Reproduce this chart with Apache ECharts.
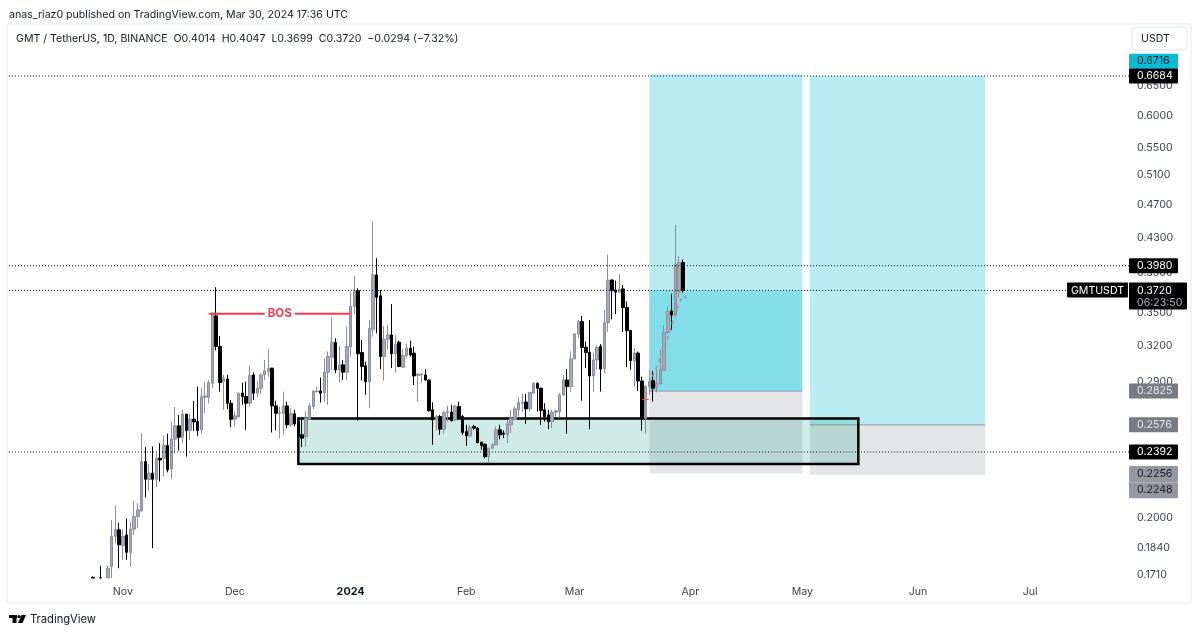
<!DOCTYPE html>
<html>
<head>
<meta charset="utf-8">
<title>GMTUSDT</title>
<style>html,body{margin:0;padding:0;background:#fff}#chart{width:1200px;height:635px}</style>
<script src="https://cdn.jsdelivr.net/npm/echarts@6/dist/echarts.min.js"></script>
</head>
<body>
<div id="chart"></div>
<script>
// ── data ─────────────────────────────────────────────────────────────────
const firstDay = "2023-10-02", dayCount = 300, firstCandle = "2023-10-24";

// open, close, low, high, one row per day from firstCandle
const ohlc = [
[.1698,.1695,.1695,.1702],"-",[.1696,.1695,.1695,.1753],"-",[.1696,.1741,.1695,.1753],
[.1749,.1899,.1695,.1986],[.1899,.1934,.1864,.2066],[.1934,.1856,.1741,.1972],[.1851,.1899,.1781,.1934],
[.1907,.1818,.1781,.1995],[.1818,.1937,.1749,.1977],[.1937,.2005,.1907,.2092],[.2005,.2042,.1942,.2079],
[.2036,.2330,.2033,.2518],[.2330,.2220,.2112,.2424],[.2220,.2257,.2153,.2315],[.2257,.2220,.1839,.2428],
[.2220,.2351,.2173,.2384],[.2351,.2340,.2206,.2450],[.2351,.2435,.2237,.2500],[.2435,.2278,.2262,.2514],
[.2284,.2477,.2220,.2599],[.2477,.2569,.2384,.2704],[.2569,.2491,.2401,.2647],[.2491,.2652,.2450,.2684],
[.2652,.2537,.2362,.2655],[.2537,.2616,.2472,.2655],[.2616,.2597,.2535,.2750],[.2599,.2537,.2500,.2860],
[.2542,.2783,.2514,.2852],[.2778,.2788,.2659,.2899],[.2778,.2892,.2733,.2912],[.2886,.3495,.2847,.3502],
[.3470,.3191,.3157,.3752],[.3191,.2892,.2821,.3285],[.2897,.2926,.2684,.2953],[.2920,.2733,.2691,.2953],
[.2733,.2616,.2560,.2757],[.2616,.2640,.2565,.2672],[.2635,.2809,.2623,.2814],[.2809,.2783,.2721,.2892],
[.2783,.2733,.2542,.2899],[.2733,.2948,.2713,.3027],[.2953,.2809,.2757,.2972],[.2809,.2847,.2778,.2907],
[.2847,.2953,.2803,.2967],[.2953,.2986,.2912,.3076],[.2980,.3008,.2939,.3168],[.3008,.2713,.2523,.3010],
[.2713,.2659,.2537,.2752],[.2659,.2664,.2484,.2708],[.2659,.2713,.2507,.2821],[.2713,.2576,.2553,.2745],
[.2576,.2655,.2560,.2696],[.2655,.2583,.2565,.2684],[.2599,.2500,.2472,.2630],[.2507,.2484,.2424,.2611],
[.2495,.2623,.2428,.2672],[.2616,.2713,.2611,.2738],[.2708,.2826,.2689,.2834],[.2821,.2826,.2814,.2860],
[.2826,.2809,.2738,.2931],[.2814,.2975,.2745,.3090],[.2975,.3105,.2721,.3148],[.3099,.3226,.2994,.3457],
[.3226,.2994,.2967,.3264],[.2994,.3035,.2894,.3197],[.3035,.2975,.2912,.3076],[.2975,.3191,.2912,.3370],
[.3191,.3560,.3105,.3708],[.3560,.3718,.3486,.3870],[.3718,.3128,.2606,.3742],[.3139,.3021,.2907,.3249],
[.3027,.2899,.2796,.3062],[.2899,.3355,.2696,.3431],[.3346,.3881,.3279,.4490],[.3881,.3651,.3309,.4062],
[.3665,.3105,.3000,.3725],[.3105,.3255,.2907,.3376],[.3255,.3294,.3165,.3385],[.3294,.3128,.3008,.3583],
[.3128,.3212,.2972,.3294],[.3229,.3021,.3016,.3243],[.3016,.3113,.3008,.3165],[.3113,.3177,.3090,.3215],
[.3177,.3119,.3105,.3243],[.3134,.2945,.2873,.3191],[.2948,.2959,.2745,.2967],[.2953,.2961,.2886,.2967],
[.2953,.2912,.2907,.3000],[.2912,.2677,.2672,.2917],[.2684,.2611,.2439,.2740],[.2611,.2635,.2537,.2647],
[.2635,.2546,.2507,.2647],[.2546,.2664,.2514,.2679],[.2664,.2672,.2599,.2713],[.2667,.2606,.2599,.2721],
[.2611,.2713,.2599,.2721],[.2708,.2630,.2623,.2745],[.2635,.2523,.2507,.2647],[.2530,.2500,.2433,.2576],
[.2500,.2560,.2491,.2576],[.2565,.2553,.2542,.2576],[.2553,.2454,.2450,.2560],[.2457,.2433,.2406,.2461],
[.2443,.2362,.2351,.2450],[.2362,.2417,.2319,.2419],[.2417,.2439,.2410,.2450],[.2439,.2542,.2433,.2565],
[.2542,.2507,.2477,.2576],[.2518,.2511,.2484,.2537],[.2507,.2583,.2450,.2611],[.2576,.2623,.2518,.2684],
[.2616,.2691,.2611,.2708],[.2684,.2738,.2635,.2778],[.2733,.2738,.2672,.2803],[.2742,.2691,.2583,.2803],
[.2691,.2814,.2672,.2821],[.2809,.2886,.2803,.2892],[.2886,.2847,.2672,.2892],[.2847,.2679,.2576,.2852],
[.2684,.2635,.2599,.2733],[.2647,.2599,.2546,.2684],[.2599,.2667,.2553,.2684],[.2667,.2677,.2635,.2684],
[.2672,.2796,.2630,.2809],[.2796,.2912,.2788,.2953],[.2912,.2860,.2514,.3000],[.2860,.3085,.2821,.3148],
[.3085,.3303,.3082,.3309],[.3303,.3416,.3264,.3431],[.3416,.3183,.2752,.3470],[.3185,.3139,.3008,.3235],
[.3139,.2945,.2546,.3431],[.2945,.3076,.2821,.3139],[.3076,.3183,.2994,.3204],[.3191,.3000,.2821,.3212],
[.3005,.3406,.2967,.3527],[.3406,.3827,.3321,.4100],[.3827,.3718,.3437,.3834],[.3725,.3701,.3486,.3820],
[.3701,.3732,.3691,.3888],[.3735,.3550,.3321,.3776],[.3550,.3333,.3016,.3608],[.3333,.3070,.2994,.3340],
[.3070,.3134,.2860,.3177],[.3134,.2904,.2826,.3148],[.2904,.2623,.2535,.2939],[.2623,.2860,.2514,.2873],
[.2860,.2899,.2796,.2994],[.2907,.2847,.2745,.2986],[.2855,.2886,.2814,.3000],[.2881,.2994,.2873,.3165],
[.2989,.3318,.2983,.3385],[.3315,.3511,.3303,.3560],[.3517,.3479,.3340,.3685],[.3479,.3996,.3463,.4450],
[.3708,.4014,.3651,.4088],[.4014,.3720,.3699,.4047]
];

const tickPrices = [0.65, 0.6, 0.55, 0.51, 0.47, 0.43, 0.39, 0.35, 0.32, 0.29, 0.2, 0.184, 0.171];
const horizontalPrices = [0.6684, 0.398, 0.2392];
const lastPrice = 0.372;

const boxDates = ["2023-12-18", "2024-05-16"];
const boxPrices = [0.2622, 0.2314];
const longA = { dates: ["2024-03-21", "2024-05-01"], target: 0.6716, entry: 0.2825, stop: 0.2256 };
const longB = { dates: ["2024-05-03", "2024-06-19"], target: 0.6684, entry: 0.2576, stop: 0.2248 };
const bosDates = ["2023-11-24", "2024-01-01"], bosPrice = 0.3489, bosMid = "2023-12-13";
const pathDates = ["2024-03-21", "2024-03-25", "2024-03-28", "2024-03-30", "2024-03-31"];
const pathPrices = [0.2880, 0.3165, 0.3495, 0.3672, 0.3640];
const stubDates = ["2024-03-19", "2024-03-21"], stubPrice = 0.276;

const tagPrices = [0.6716, 0.6684, 0.398, 0.372, 0.2825, 0.2576, 0.2392, 0.2256, 0.2248];
const tagKinds = ["cyan", "black", "black", "last", "gray", "gray", "black", "pale", "pale"];
const monthNames = ["Jan","Feb","Mar","Apr","May","Jun","Jul","Aug","Sep","Oct","Nov","Dec"];

// ── palette ──────────────────────────────────────────────────────────────
const colores = {
   texto: "#131722", eje: "#3c3f48", marco: "#f0f3fa",
   alza: "#a9acb6", alzaBorde: "#8b8e98", baja: "#000000",
   azul: "rgba(0,188,212,0.28)", gris: "rgba(120,123,134,0.2)", verde: "rgba(8,153,129,0.2)",
   rojo: "#f23b4c"
};
const fuente = "Inter, 'Noto Sans', sans-serif";
const tamano = 10.6;
const tagStyle = {
   cyan:  { fill: "#00bcd4", text: "#131722" },
   black: { fill: "#000000", text: "#ffffff" },
   last:  { fill: "#000000", text: "#ffffff" },
   gray:  { fill: "#787b86", text: "#e8eaf0" },
   pale:  { fill: "#9598a1", text: "#131722" }
};
const tagNudge = { 0.6716: -13, 0.2248: 15 };

// ── categories ───────────────────────────────────────────────────────────
const categorias = [];
for (let i = 0; i < dayCount; i++) {
   categorias.push(new Date(Date.parse(firstDay) + i * 864e5).toISOString().slice(0, 10));
}
const idx = fecha => categorias.indexOf(fecha);
const offset = idx(firstCandle);
const velas = categorias.map((c, i) => ohlc[i - offset] || "-");

// ── custom series helpers ────────────────────────────────────────────────
const fnCustom = (name, z, draw) => ({
   type: "custom", name, z, silent: true, clip: false, data: [[0, lastPrice]],
   renderItem: (params, api) => ({ type: "group", children: draw(params, api) })
});

const fnRect = (api, d0, d1, hi, lo, style) => {
   const a = api.coord([idx(d0), hi]), b = api.coord([idx(d1), lo]);
   return { type: "rect", shape: { x: a[0], y: a[1], width: b[0] - a[0], height: b[1] - a[1] }, style };
};

const fnLong = (pos) => fnCustom("long", 1, (params, api) => {
   const a = api.coord([idx(pos.dates[0]), pos.entry]), b = api.coord([idx(pos.dates[1]), pos.entry]);
   return [
      fnRect(api, pos.dates[0], pos.dates[1], pos.target, pos.entry, { fill: colores.azul }),
      fnRect(api, pos.dates[0], pos.dates[1], pos.entry, pos.stop, { fill: colores.gris }),
      { type: "line", shape: { x1: a[0], y1: a[1], x2: b[0], y2: b[1] }, style: { stroke: "rgba(120,123,134,0.7)", lineWidth: 1 } }
   ];
});

const fnDotted = (y, x0, x1) => ({
   type: "line", shape: { x1: x0, y1: y, x2: x1, y2: y },
   style: { stroke: colores.texto, lineWidth: 1, lineDash: [1, 2] }
});

const fnTag = (y, h, fill, w) => ({ type: "rect", shape: { x: 1129, y, width: w || 49, height: h, r: 1 }, style: { fill } });
const fnTagText = (y, text, fill) => ({
   type: "text", style: { x: 1137, y, text, fill, font: `${tamano}px ${fuente}`, align: "left", verticalAlign: "middle" }
});

// ── option ───────────────────────────────────────────────────────────────
const opcion = {
   backgroundColor: "#ffffff",
   animation: false,
   grid: { left: 9, right: 71, top: 26, bottom: 57 },
   xAxis: {
      type: "category",
      data: categorias,
      boundaryGap: true,
      axisLine: { show: false },
      axisTick: { show: false },
      splitLine: { show: false },
      axisLabel: {
         interval: (i, valor) => valor.endsWith("-01"),
         hideOverlap: false,
         margin: 8,
         fontFamily: fuente,
         fontSize: tamano,
         color: colores.eje,
         formatter: valor => {
            const mes = Number(valor.slice(5, 7)) - 1;
            return mes === 0 ? `{b|${valor.slice(0, 4)}}` : monthNames[mes];
         },
         rich: { b: { fontFamily: fuente, fontSize: 10.8, fontWeight: "bold", color: colores.texto } }
      }
   },
   yAxis: {
      type: "log",
      logBase: 10,
      min: 0.1695,
      max: 0.7663,
      scale: true,
      axisLine: { show: false },
      axisTick: { show: false },
      axisLabel: { show: false },
      splitLine: { show: false }
   },
   series: [
      fnLong(longA),
      fnLong(longB),
      fnCustom("activo", 2, (params, api) => [
         fnRect(api, longA.dates[0], longA.dates[1], lastPrice, longA.entry, { fill: colores.azul })
      ]),
      fnCustom("caja", 3, (params, api) => [
         fnRect(api, boxDates[0], boxDates[1], boxPrices[0], boxPrices[1], {
            fill: colores.verde, stroke: "#000000", lineWidth: 2.5
         })
      ]),
      {
         type: "candlestick",
         name: "GMTUSDT",
         z: 4,
         barWidth: 3,
         data: velas,
         itemStyle: { color: colores.alza, color0: colores.baja, borderColor: colores.alzaBorde, borderColor0: colores.baja, borderWidth: 1 }
      },
      {
         type: "line",
         name: "path",
         z: 5,
         symbol: "none",
         data: pathDates.map((f, i) => [f, pathPrices[i]]),
         lineStyle: { color: "#9598a1", width: 1.5, type: [4, 4] }
      },
      fnCustom("rotulos", 6, (params, api) => {
         const g = params.coordSys, xFin = g.x + g.width;
         const hijos = [];
         horizontalPrices.forEach(p => hijos.push(fnDotted(api.coord([0, p])[1], g.x, xFin)));
         hijos.push(fnDotted(api.coord([0, lastPrice])[1], g.x, 1067));

         const a = api.coord([idx(bosDates[0]), bosPrice]), b = api.coord([idx(bosDates[1]), bosPrice]);
         const m = api.coord([idx(bosMid), bosPrice]);
         const linea = (x1, x2) => ({ type: "line", shape: { x1, y1: a[1], x2, y2: a[1] }, style: { stroke: colores.rojo, lineWidth: 2 } });
         hijos.push(linea(a[0], m[0] - 15), linea(m[0] + 15, b[0]));
         hijos.push({ type: "text", style: { x: m[0], y: a[1], text: "BOS", fill: colores.rojo, font: `bold 11.5px ${fuente}`, align: "center", verticalAlign: "middle" } });

         const s0 = api.coord([idx(stubDates[0]), stubPrice]), s1 = api.coord([idx(stubDates[1]), stubPrice]);
         hijos.push({ type: "line", shape: { x1: s0[0], y1: s0[1], x2: s1[0], y2: s1[1] }, style: { stroke: colores.rojo, lineWidth: 1, lineDash: [3, 1] } });

         tickPrices.forEach(p => hijos.push(fnTagText(api.coord([0, p])[1], p.toFixed(4), colores.eje)));
         return hijos;
      }),
      fnCustom("etiquetas", 7, (params, api) => {
         const hijos = [];
         tagPrices.forEach((p, i) => {
            const y = api.coord([0, p])[1] + (tagNudge[p] || 0);
            const st = tagStyle[tagKinds[i]];
            if (tagKinds[i] === "last") {
               hijos.push(fnTag(y - 8, 27, st.fill, 58));
               hijos.push(fnTagText(y, p.toFixed(4), st.text));
               hijos.push(fnTagText(y + 12, "06:23:50", "#b2b5be"));
               hijos.push({ type: "rect", shape: { x: 1067, y: y - 8, width: 61, height: 15, r: 1 }, style: { fill: st.fill } });
               hijos.push({ type: "text", style: { x: 1097.5, y, text: "GMTUSDT", fill: "#ffffff", font: `${tamano}px ${fuente}`, align: "center", verticalAlign: "middle" } });
            } else {
               hijos.push(fnTag(y - 7.5, tagKinds[i] === "pale" ? 16 : 15, st.fill));
               hijos.push(fnTagText(y, p.toFixed(4), st.text));
            }
         });
         return hijos;
      })
   ],
   graphic: [
      { type: "text", x: 9, y: 9, style: { text: "anas_riaz0 published on TradingView.com, Mar 30, 2024 17:36 UTC", fill: colores.texto, font: `${tamano}px ${fuente}` } },
      { type: "rect", shape: { x: 7, y: 24, width: 1184, height: 579, r: 3 }, style: { fill: "none", stroke: colores.marco, lineWidth: 2 }, z: 20 },
      { type: "text", x: 16, y: 33, style: { text: "GMT / TetherUS, 1D, BINANCE  O0.4014  H0.4047  L0.3699  C0.3720  \u22120.0294 (\u22127.32%)", fill: colores.texto, font: `${tamano}px ${fuente}` } },
      { type: "rect", shape: { x: 1132, y: 27, width: 55, height: 23, r: 4 }, style: { fill: "#ffffff", stroke: "#e0e3eb", lineWidth: 1 }, z: 20 },
      { type: "text", x: 1141, y: 33, style: { text: "USDT", fill: colores.texto, font: `${tamano}px ${fuente}` }, z: 21 },
      { type: "text", x: 30, y: 614, style: { text: "TradingView", fill: colores.texto, font: `11.2px ${fuente}` } },
      { type: "rect", shape: { x: 9, y: 615, width: 8, height: 3 }, style: { fill: "#000000" } },
      { type: "rect", shape: { x: 12.5, y: 615, width: 4, height: 8 }, style: { fill: "#000000" } },
      { type: "circle", shape: { cx: 19, cy: 616.6, r: 1.6 }, style: { fill: "#000000" } },
      { type: "polygon", shape: { points: [[21.5, 615], [26, 615], [22.5, 623], [18, 623]] }, style: { fill: "#000000" } }
   ]
};

const grafica = echarts.init(document.getElementById("chart"));
grafica.setOption(opcion);
</script>
</body>
</html>
